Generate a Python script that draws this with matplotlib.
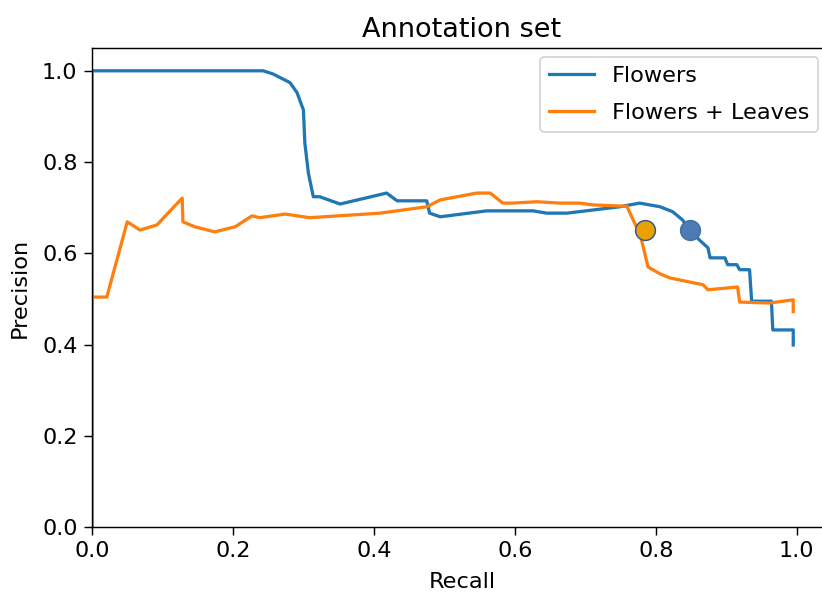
import matplotlib

matplotlib.use("Agg")
import matplotlib.pyplot as plt

# precision/recall traces for the two annotation variants
flowers_recall = [0.0, 0.0, 0.243, 0.257, 0.281, 0.291, 0.300, 0.302, 0.307, 0.314,
                  0.323, 0.352, 0.418, 0.433, 0.475, 0.479, 0.494, 0.560, 0.626, 0.645,
                  0.674, 0.749, 0.777, 0.806, 0.824, 0.838, 0.848, 0.862, 0.874, 0.877,
                  0.898, 0.902, 0.915, 0.919, 0.933, 0.936, 0.964, 0.966, 0.995, 0.995]
flowers_precision = [0.0, 1.0, 1.0, 0.993, 0.974, 0.952, 0.914, 0.842, 0.776, 0.724,
                     0.724, 0.708, 0.732, 0.715, 0.715, 0.688, 0.680, 0.693, 0.693, 0.688,
                     0.688, 0.702, 0.710, 0.702, 0.691, 0.673, 0.651, 0.629, 0.612, 0.590,
                     0.590, 0.575, 0.575, 0.564, 0.564, 0.495, 0.495, 0.432, 0.432, 0.399]

leaves_recall = [0.0, 0.0, 0.021, 0.050, 0.068, 0.092, 0.128, 0.129, 0.146, 0.174,
                 0.203, 0.227, 0.238, 0.274, 0.309, 0.409, 0.475, 0.494, 0.546, 0.565,
                 0.583, 0.597, 0.631, 0.664, 0.692, 0.711, 0.759, 0.767, 0.778, 0.789,
                 0.806, 0.820, 0.848, 0.867, 0.874, 0.916, 0.919, 0.962, 0.995, 0.995]
leaves_precision = [0.0, 0.504, 0.504, 0.669, 0.651, 0.662, 0.721, 0.669, 0.658, 0.647,
                    0.658, 0.682, 0.678, 0.686, 0.678, 0.688, 0.702, 0.717, 0.732, 0.732,
                    0.710, 0.710, 0.713, 0.710, 0.710, 0.706, 0.703, 0.676, 0.640, 0.570,
                    0.555, 0.546, 0.537, 0.531, 0.520, 0.526, 0.493, 0.491, 0.498, 0.472]

# chosen operating points (leaves, flowers)
op_recall = [0.784, 0.848]
op_precision = [0.651, 0.651]
op_colors = ["#E9A100", "#4E7AB5"]
op_edges = ["#2F5597", "#41719C"]

plt.rcParams.update({
    "font.size": 12.4,
    "axes.titlesize": 15,
    "xtick.major.size": 4.5,
    "ytick.major.size": 4.5,
    "lines.linewidth": 1.8,
})

dpi = 130
fig = plt.figure(figsize=(822 / dpi, 594 / dpi), dpi=dpi)
# axes run slightly past the right edge of the canvas
ax = fig.add_axes([92 / 822, 67 / 594, 740 / 822, 479 / 594])

ax.plot(flowers_recall, flowers_precision, color="#1f77b4", label="Flowers")
ax.plot(leaves_recall, leaves_precision, color="#ff7f0e", label="Flowers + Leaves")
for x, y, c, e in zip(op_recall, op_precision, op_colors, op_edges):
    ax.plot([x], [y], "o", markersize=11, markerfacecolor=c, markeredgecolor=e,
            markeredgewidth=0.8, zorder=5)

ax.set_xlim(0.0, 1.05)
ax.set_ylim(0.0, 1.05)
ax.set_xticks([0.0, 0.2, 0.4, 0.6, 0.8, 1.0])
ax.set_yticks([0.0, 0.2, 0.4, 0.6, 0.8, 1.0])
ax.spines["right"].set_visible(False)
ax.set_xlabel("Recall", labelpad=6)
ax.set_ylabel("Precision", labelpad=7)
ax.set_title("Annotation set")
# keep the legend inside the visible canvas
ax.legend(loc="upper right", bbox_to_anchor=(818 / 822, 1 - 57 / 594),
          bbox_transform=fig.transFigure, borderaxespad=0.0, labelspacing=0.75)

fig.savefig("out.png", dpi=dpi)
plt.close(fig)
